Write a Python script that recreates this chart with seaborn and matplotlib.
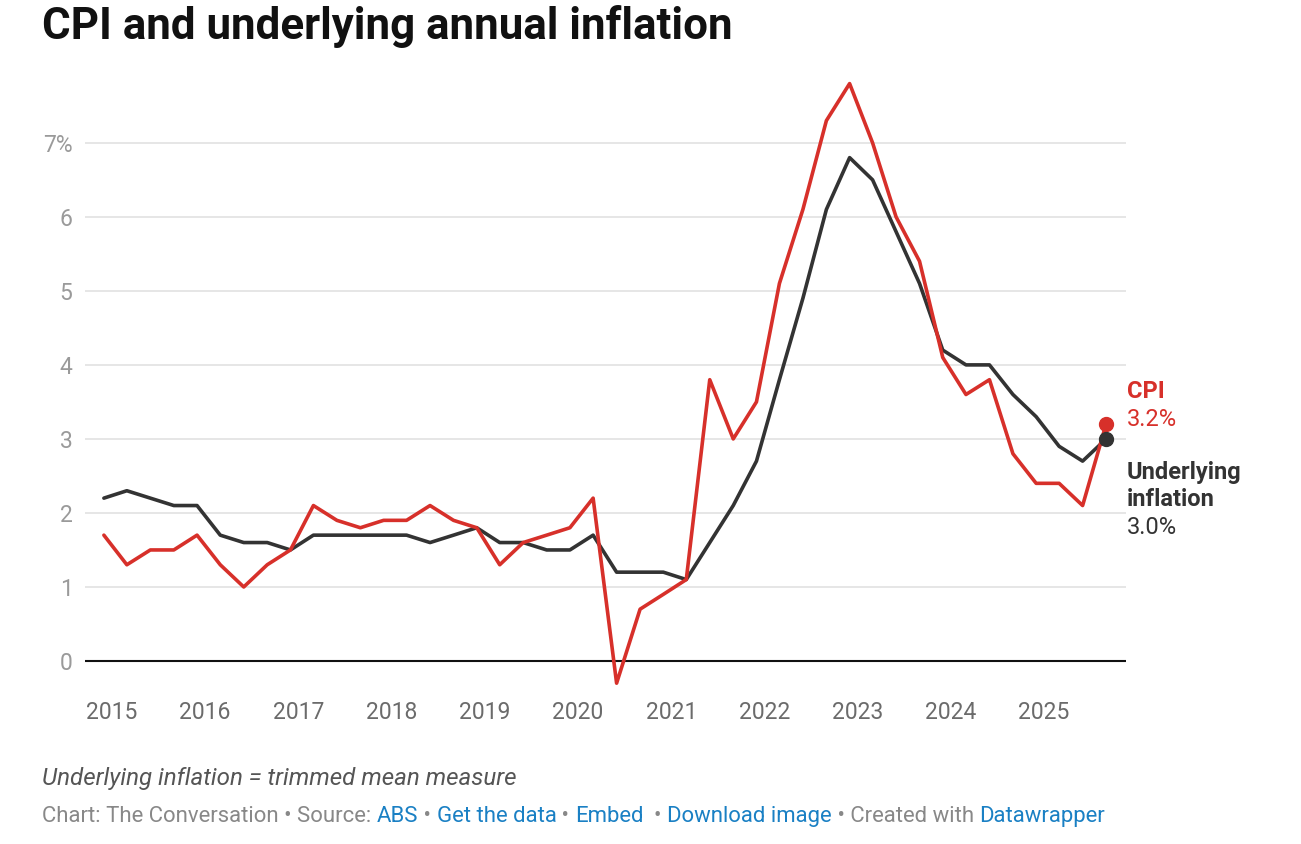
import matplotlib
matplotlib.use("Agg")
import matplotlib.pyplot as plt
import matplotlib.dates as mdates
import seaborn as sns
import pandas as pd
import numpy as np

# quarterly annual inflation, Dec 2014 .. Sep 2025
quarters = pd.date_range("2014-12-01", periods=44, freq="QS-DEC")
cpi = [1.7, 1.3, 1.5, 1.5, 1.7, 1.3, 1.0, 1.3, 1.5, 2.1, 1.9, 1.8, 1.9, 1.9, 2.1,
       1.9, 1.8, 1.3, 1.6, 1.7, 1.8, 2.2, -0.3, 0.7, 0.9, 1.1, 3.8, 3.0, 3.5, 5.1,
       6.1, 7.3, 7.8, 7.0, 6.0, 5.4, 4.1, 3.6, 3.8, 2.8, 2.4, 2.4, 2.1, 3.2]
underlying = [2.2, 2.3, 2.2, 2.1, 2.1, 1.7, 1.6, 1.6, 1.5, 1.7, 1.7, 1.7, 1.7, 1.7,
              1.6, 1.7, 1.8, 1.6, 1.6, 1.5, 1.5, 1.7, 1.2, 1.2, 1.2, 1.1, 1.6, 2.1,
              2.7, 3.8, 4.9, 6.1, 6.8, 6.5, 5.8, 5.1, 4.2, 4.0, 4.0, 3.6, 3.3, 2.9,
              2.7, 3.0]
series_names = ["CPI", "Underlying inflation"]
y_ticks = [0, 1, 2, 3, 4, 5, 6, 7]

RED = "#d7302a"
DARK = "#333333"
BLUE = "#1a80c4"

df = pd.DataFrame({
    "date": list(quarters) * 2,
    "value": cpi + underlying,
    "series": [series_names[0]] * len(cpi) + [series_names[1]] * len(underlying),
})

sns.set_theme(style="white")
plt.rcParams["font.family"] = ["Roboto", "DejaVu Sans"]

W, H = 1301, 844
fig = plt.figure(figsize=(W / 100, H / 100), dpi=100)
ax = fig.add_axes([85 / W, 1 - 698 / H, (1126 - 85) / W, (698 - 54) / H])

sns.lineplot(data=df, x="date", y="value", hue="series", ax=ax,
             palette={series_names[0]: RED, series_names[1]: DARK},
             hue_order=series_names[::-1], linewidth=2.6, legend=False,
             zorder=3)

# end points
ax.plot(quarters[-1], underlying[-1], "o", color=DARK, ms=10, zorder=5, clip_on=False)
ax.plot(quarters[-1], cpi[-1], "o", color=RED, ms=10, zorder=4, clip_on=False)

ax.set_ylim(-0.5, 8.2)
ax.set_xlim(pd.Timestamp("2014-09-18"), pd.Timestamp("2025-11-18"))
for s in ax.spines.values():
    s.set_visible(False)
for v in y_ticks[1:]:
    ax.axhline(v, color="#e2e2e2", lw=1.2, zorder=1)
ax.axhline(0, color="#111111", lw=1.5, zorder=2)

ax.set_yticks(y_ticks)
ax.set_yticklabels([f"{v}%" if v == 7 else str(v) for v in y_ticks])
ax.xaxis.set_major_locator(mdates.YearLocator())
ax.xaxis.set_major_formatter(mdates.DateFormatter("%Y"))
ax.tick_params(axis="y", length=0, pad=9, labelsize=16.5, labelcolor="#9a9a9a")
ax.tick_params(axis="x", length=0, pad=2, labelsize=16.5, labelcolor="#6b6b6b")
ax.set_xlabel("")
ax.set_ylabel("")

# end labels
lab_x = 1127 / W
fs_lab = 17
fig.text(lab_x, 1 - 392 / H, "CPI", color=RED, fontsize=fs_lab, fontweight="bold", va="center")
fig.text(lab_x, 1 - 420 / H, f"{cpi[-1]:.1f}%", color=RED, fontsize=fs_lab, va="center")
fig.text(lab_x, 1 - 472 / H, "Underlying", color=DARK, fontsize=fs_lab, fontweight="bold", va="center")
fig.text(lab_x, 1 - 499 / H, "inflation", color=DARK, fontsize=fs_lab, fontweight="bold", va="center")
fig.text(lab_x, 1 - 528 / H, f"{underlying[-1]:.1f}%", color=DARK, fontsize=fs_lab, va="center")

# title and notes
fig.text(42 / W, 1 - 27 / H, "CPI and underlying annual inflation", fontsize=31.6,
         fontweight="bold", color="#111111", va="center")
fig.text(42 / W, 1 - 778 / H, "Underlying inflation = trimmed mean measure",
         fontsize=17.4, fontstyle="italic", color="#555555", va="center")

FS_FOOT = 15.9
pieces = [("Chart: The Conversation \u2022 Source: ", "#888888"), ("ABS", BLUE),
          (" \u2022 ", "#888888"), ("Get the data", BLUE), (" \u2022 ", "#888888"),
          ("Embed", BLUE), ("  \u2022 ", "#888888"), ("Download image", BLUE),
          (" \u2022 Created with ", "#888888"), ("Datawrapper", BLUE)]
fig.canvas.draw()
renderer = fig.canvas.get_renderer()


def text_width(s):
    t = fig.text(0, 0, s + "|", fontsize=FS_FOOT)
    w = t.get_window_extent(renderer).width
    t.remove()
    t = fig.text(0, 0, "|", fontsize=FS_FOOT)
    w -= t.get_window_extent(renderer).width
    t.remove()
    return w


prefix = ""
for txt, col in pieces:
    x0 = 42 + text_width(prefix) if prefix else 42
    fig.text(x0 / W, 1 - 822 / H, txt, fontsize=FS_FOOT, color=col, va="baseline")
    prefix += txt

fig.savefig("out.png", dpi=100)
